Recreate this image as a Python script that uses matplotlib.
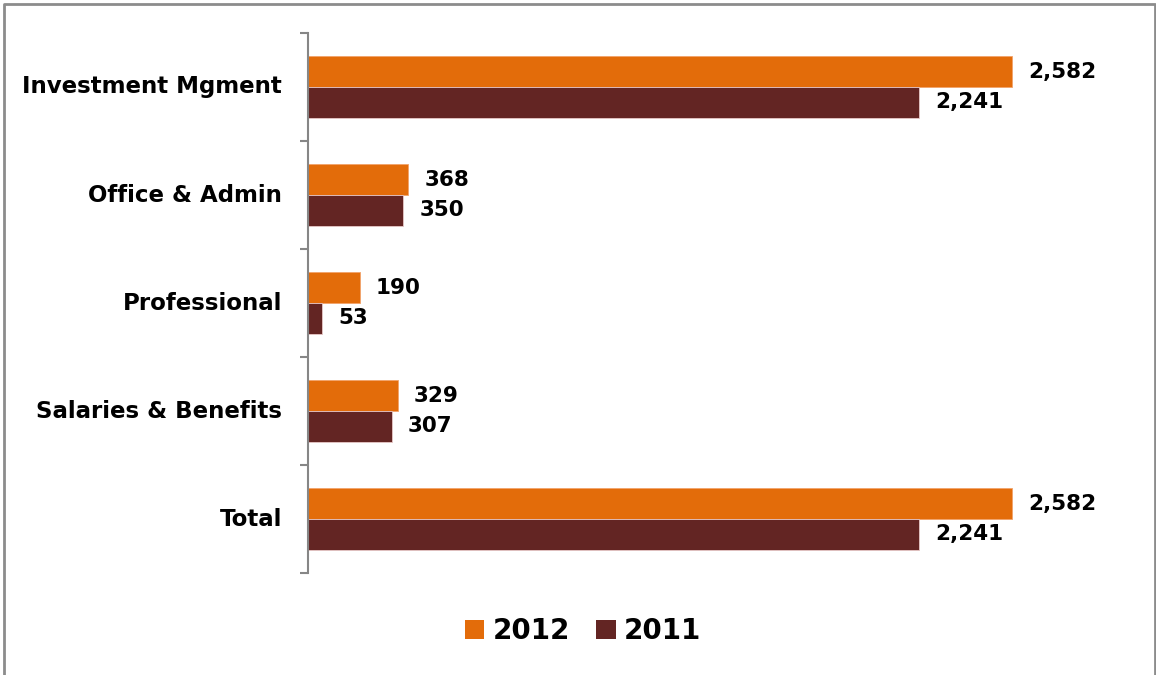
import matplotlib
matplotlib.use("Agg")
import matplotlib.pyplot as plt
from matplotlib.lines import Line2D
from matplotlib.patches import Patch
from matplotlib.transforms import ScaledTranslation

categories = ["Investment Mgment", "Office & Admin", "Professional", "Salaries & Benefits", "Total"]
values_2012 = [2582, 368, 190, 329, 2582]
values_2011 = [2241, 350, 53, 307, 2241]
series_names = ["2012", "2011"]
colors = ["#E36C0A", "#632523"]

FONT = ["DejaVu Sans"]
plt.rcParams['font.family'] = FONT

fig = plt.figure(figsize=(11.56, 6.75), dpi=100)
W, H = 1156, 675
ax = fig.add_axes([308 / W, 1 - 573 / H, 818 / W, 540 / H])

n = len(categories)
pos = list(range(n))
h = 0.2825
b1 = ax.barh([p - h / 2 for p in pos], values_2012, height=h, color=colors[0],
             edgecolor="#F2A36A", linewidth=0.6)
b2 = ax.barh([p + h / 2 for p in pos], values_2011, height=h, color=colors[1],
             edgecolor="#E8C8C8", linewidth=0.6)

ax.set_xlim(0, 3000)
ax.set_ylim(n - 0.5, -0.5)

for bars, vals in ((b1, values_2012), (b2, values_2011)):
    for bar, v in zip(bars, vals):
        ax.annotate(f"{v:,}", (v, bar.get_y() + bar.get_height() / 2),
                    xytext=(16, 0), textcoords="offset pixels",
                    ha="left", va="center", fontsize=15.5, fontweight="bold",
                    color="black")

# axis styling
for s in ["top", "right", "bottom"]:
    ax.spines[s].set_visible(False)
ax.spines["left"].set_color("#868686")
ax.spines["left"].set_linewidth(1.5)
ax.set_xticks([])
ax.set_yticks([p - 0.5 for p in pos] + [n - 0.5])
ax.set_yticklabels([])
ax.tick_params(axis="y", which="major", length=5.8, width=1.5, color="#868686", direction="out")
ax.set_yticks(pos, minor=True)
ax.set_yticklabels(categories, minor=True, fontsize=16.5, fontweight="bold")
ax.tick_params(axis="y", which="minor", length=0, pad=18.7)
shift = ScaledTranslation(0, 2.5 / 100, fig.dpi_scale_trans)
for lab in ax.get_yticklabels(minor=True):
    lab.set_transform(lab.get_transform() + shift)

# legend
handles = [Patch(facecolor=colors[0], edgecolor="none"),
           Patch(facecolor=colors[1], edgecolor="none")]
fig.legend(handles, series_names, loc="center", bbox_to_anchor=(583 / W, 1 - 631 / H),
           ncol=2, frameon=False, prop={"family": FONT, "weight": "bold", "size": 20},
           handlelength=0.7, handleheight=0.7, handletextpad=0.3, columnspacing=0.95)

# outer border (no bottom edge)
border = Line2D([3.5 / W, 3.5 / W, 1154.5 / W, 1154.5 / W],
                [0, 1 - 3.5 / H, 1 - 3.5 / H, 0],
                transform=fig.transFigure, color="#8C8C8C", linewidth=2)
fig.add_artist(border)

fig.savefig("out.png", dpi=100)
